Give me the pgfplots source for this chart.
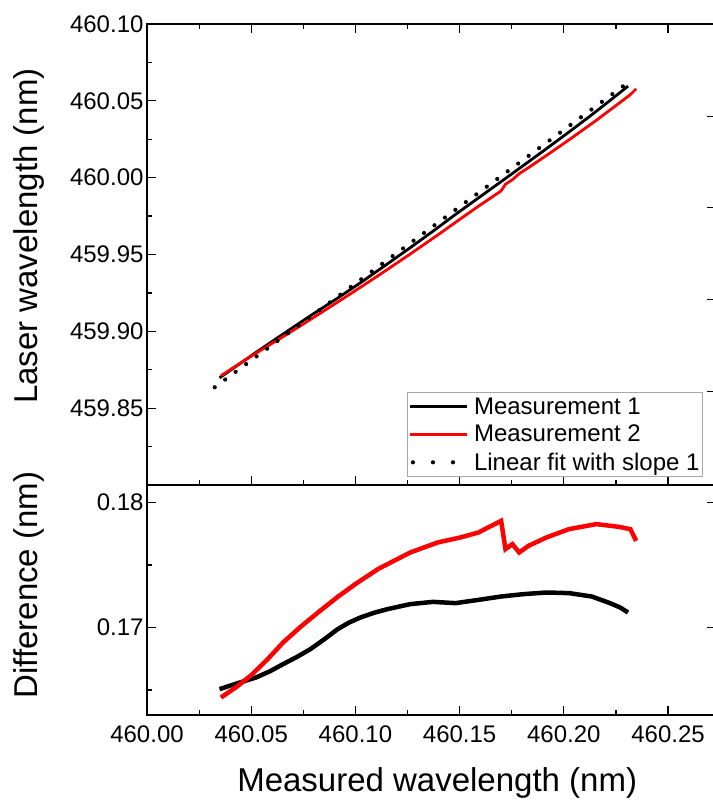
\documentclass[border=0pt]{standalone}
\usepackage{fontspec}
\setmainfont{Liberation Sans}
\usepackage{pgfplots}
\pgfplotsset{compat=1.18}

\pgfplotsset{
  myaxis/.style={
    scale only axis, width=569pt, anchor=south west,
    xmin=460.0, xmax=460.273,
    xtick={460.00,460.05,460.10,460.15,460.20,460.25},
    minor xtick={460.025,460.075,460.125,460.175,460.225},
    tick align=inside,
    major tick length=9pt, minor tick length=5pt,
    every tick/.style={black, line width=1.2pt},
    axis line style={line width=1.4pt},
    /pgf/number format/assume math mode=true,
    tick label style={font=\fontsize{24}{28}\selectfont},
    label style={font=\fontsize{33}{38}\selectfont},
  }
}

\begin{document}
\begin{tikzpicture}
% ---------- top panel ----------
\begin{axis}[myaxis, at={(147pt,317pt)}, height=461pt,
  ymin=459.80, ymax=460.10,
  ytick={459.85,459.90,459.95,460.00,460.05,460.10},
  yticklabels={459.85,459.90,459.95,460.00,460.05,460.10},
  minor ytick={459.825,459.875,459.925,459.975,460.025,460.075},
  xticklabels={}, xtick pos=both, ytick pos=left,
  ylabel={Laser wavelength (nm)},
  ylabel style={at={(axis description cs:-0.207,0.54)}, anchor=center},
  legend style={at={(0.977,0.017)}, anchor=south east, draw=gray!70, line width=0.8pt,
    fill=white, font=\fontsize{24}{28}\selectfont, cells={anchor=west},
    inner xsep=1pt, inner ysep=3pt, row sep=5.5pt},
  legend image code/.code={\draw[#1] (0pt,0pt) -- (57pt,0pt);},
]
\addplot[black, line width=2.8pt] coordinates {
(460.0348,459.86973) (460.0436,459.87805) (460.0523,459.8863) (460.0653,459.89823)
(460.0784,459.91013) (460.0915,459.92163) (460.1024,459.9316) (460.1154,459.94393)
(460.1263,459.95443) (460.1372,459.96515) (460.1481,459.97615) (460.1590,459.98679)
(460.1699,459.99742) (460.1807,460.00803) (460.1916,460.0188) (460.2025,460.02975)
(460.2134,460.04092) (460.2221,460.05015) (460.2308,460.0596)
};
\addlegendentry{Measurement 1}
\addplot[red, line width=2.8pt] coordinates {
(460.0355,459.8711) (460.0430,459.87775) (460.0501,459.8839) (460.0578,459.89035)
(460.0653,459.8965) (460.0740,459.9039) (460.0828,459.9115) (460.0915,459.91905)
(460.1002,459.9267) (460.1111,459.9364) (460.1263,459.9503) (460.1394,459.9626)
(460.1503,459.9731) (460.1590,459.9814) (460.1699,459.99137) (460.1720,459.99573)
(460.1753,459.99863) (460.1786,460.0026) (460.1830,460.00647) (460.1916,460.0144)
(460.2025,460.02463) (460.2156,460.03733) (460.2265,460.04845) (460.2319,460.05403)
(460.2347,460.0578)
};
\addlegendentry{Measurement 2}
\addplot[black, line width=4.2pt, line cap=round, dash pattern=on 0pt off 13pt,
  legend image code/.code={\draw[black, line width=4.2pt, line cap=round, dash pattern=on 0pt off 20pt] (3pt,0pt) -- (60pt,0pt);}]
  coordinates {(460.0325,459.8636) (460.2300,460.0611)};
\addlegendentry{Linear fit with slope 1}
\end{axis}
% right-side ticks of the top panel
\begin{axis}[myaxis, at={(147pt,317pt)}, height=461pt,
  ymin=459.80, ymax=460.10, hide x axis, ytick pos=right,
  ytick={459.861,459.9208,459.9805,460.0396}, yticklabels={}, minor ytick={}]
\addplot[draw=none] coordinates {(460.1,459.9)};
\end{axis}
% ---------- bottom panel ----------
\begin{axis}[myaxis, at={(147pt,87pt)}, height=230pt,
  ymin=0.163, ymax=0.1814,
  ytick={0.17,0.18}, yticklabels={0.17,0.18},
  minor ytick={0.165,0.175},
  xtick pos=bottom, ytick pos=left,
  xticklabels={460.00,460.05,460.10,460.15,460.20,460.25},
  xticklabel style={yshift=-7pt},
  xlabel={Measured wavelength (nm)},
  xlabel style={at={(axis description cs:0.51,-0.296)}, anchor=center},
  ylabel={Difference (nm)},
  ylabel style={at={(axis description cs:-0.207,0.565)}, anchor=center},
]
\addplot[black, line width=4.5pt] coordinates {
(460.0348,0.16507) (460.0436,0.16555) (460.0523,0.16600) (460.0590,0.16650)
(460.0653,0.16707) (460.0720,0.16765) (460.0784,0.16827) (460.0850,0.16905)
(460.0915,0.16987) (460.0970,0.17040) (460.1024,0.17080) (460.1090,0.17118)
(460.1154,0.17147) (460.1263,0.17187) (460.1372,0.17205) (460.1481,0.17195)
(460.1590,0.17221) (460.1699,0.17248) (460.1807,0.17267) (460.1916,0.17280)
(460.2025,0.17275) (460.2134,0.17248) (460.2221,0.17195) (460.2270,0.17160)
(460.2308,0.17120)
};
\addplot[red, line width=4.5pt] coordinates {
(460.0355,0.16440) (460.0430,0.16525) (460.0501,0.16620) (460.0578,0.16745)
(460.0653,0.16880) (460.0740,0.17010) (460.0828,0.17130) (460.0915,0.17245)
(460.1002,0.17350) (460.1111,0.17470) (460.1263,0.17600) (460.1394,0.17680)
(460.1503,0.17720) (460.1590,0.17760) (460.1699,0.17853) (460.1720,0.17627)
(460.1753,0.17667) (460.1786,0.17600) (460.1830,0.17653) (460.1916,0.17720)
(460.2025,0.17787) (460.2156,0.17827) (460.2265,0.17805) (460.2319,0.17787)
(460.2347,0.17693)
};
\end{axis}
% right-side ticks of the bottom panel
\begin{axis}[myaxis, at={(147pt,87pt)}, height=230pt,
  ymin=0.163, ymax=0.1814, hide x axis, ytick pos=right,
  ytick={0.17,0.18}, yticklabels={}, minor ytick={}]
\addplot[draw=none] coordinates {(460.1,0.17)};
\end{axis}
\pgfresetboundingbox
\useasboundingbox (0pt,0pt) rectangle (712pt,802pt);
\end{tikzpicture}
\end{document}
